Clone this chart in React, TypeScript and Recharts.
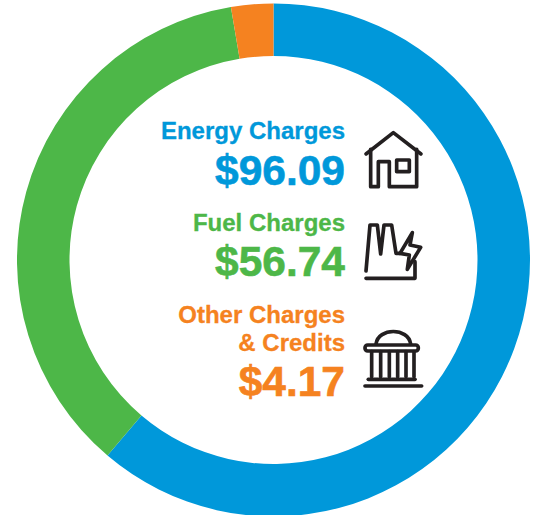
import { PieChart, Pie, Cell, Customized } from "recharts";

const categories = ["Energy Charges", "Fuel Charges", "Other Charges & Credits"];
const amounts = [96.09, 56.74, 4.17];
const colors = ["#0098DA", "#4DB748", "#F58220"];

const data = categories.map((name, i) => ({ name, value: amounts[i] }));

const FONT = "'Liberation Sans', Arial, sans-serif";
const INK = "#231F20";

function Labels() {
  const line = (text: string, y: number, size: number, color: string) => (
    <text
      key={text}
      x={345}
      y={y}
      textAnchor="end"
      fontFamily={FONT}
      fontWeight={700}
      fontSize={size}
      fill={color}
      stroke={color}
      strokeWidth={size > 30 ? 0.6 : 0.3}
    >
      {text}
    </text>
  );
  return (
    <g>
      {line("Energy Charges", 139, 24, colors[0])}
      {line("$96.09", 185, 42.5, colors[0])}
      {line("Fuel Charges", 231, 24, colors[1])}
      {line("$56.74", 276, 42.5, colors[1])}
      {line("Other Charges", 323, 24, colors[2])}
      {line("& Credits", 351, 24, colors[2])}
      {line("$4.17", 396, 42.5, colors[2])}
    </g>
  );
}

// icons, traced on a 3x grid from the reference
function Icons() {
  const stroke = { fill: "none", stroke: INK, strokeWidth: 11, strokeLinejoin: "round" as const, strokeLinecap: "round" as const };
  return (
    <g>
      <g transform="translate(350 120) scale(0.3333)">
        <path {...stroke} d="M48 102 L130 38 L213 102" />
        <path {...stroke} d="M62 88 L62 200 L85 200 L85 125 L118 125 L118 200 L200 200 L200 88" />
        <rect {...stroke} x={140} y={120} width={38} height={35} />
      </g>
      <g transform="translate(350 210) scale(0.3333)">
        <path {...stroke} d="M48 183 L60 45 L82 45 L92 132 L102 45 L125 45 L138 130 L150 130" />
        <path {...stroke} d="M187 68 L150 130 L178 135 L172 178 L212 112 L180 105 Z" />
        <path {...stroke} d="M48 205 L195 205 L195 155" />
      </g>
      <g transform="translate(350 320) scale(0.3333)">
        <path {...stroke} d="M78 72 C85 22 175 22 182 72" />
        <rect {...stroke} x={45} y={75} width={160} height={18} rx={8} />
        {[65, 92, 118, 143, 168, 192].map((x) => (
          <path key={x} {...stroke} d={`M${x} 95 L${x} 170`} />
        ))}
        <path {...stroke} d="M55 178 L195 178" />
        <path {...stroke} d="M45 198 L215 198" />
      </g>
    </g>
  );
}

export default function App() {
  return (
    <div style={{ position: "absolute", left: 0, top: 0, width: 537, height: 515, background: "#fff", overflow: "hidden" }}>
      <PieChart width={537} height={515} margin={{ top: 0, right: 0, bottom: 0, left: 0 }} style={{ overflow: "visible" }}>
        <Pie
          data={data}
          dataKey="value"
          cx={273.5}
          cy={260}
          innerRadius={204}
          outerRadius={256.5}
          startAngle={90}
          endAngle={-270}
          stroke="none"
          isAnimationActive={false}
        >
          {data.map((d, i) => (
            <Cell key={d.name} fill={colors[i]} />
          ))}
        </Pie>
        <Customized component={<Labels />} />
        <Customized component={<Icons />} />
      </PieChart>
    </div>
  );
}
